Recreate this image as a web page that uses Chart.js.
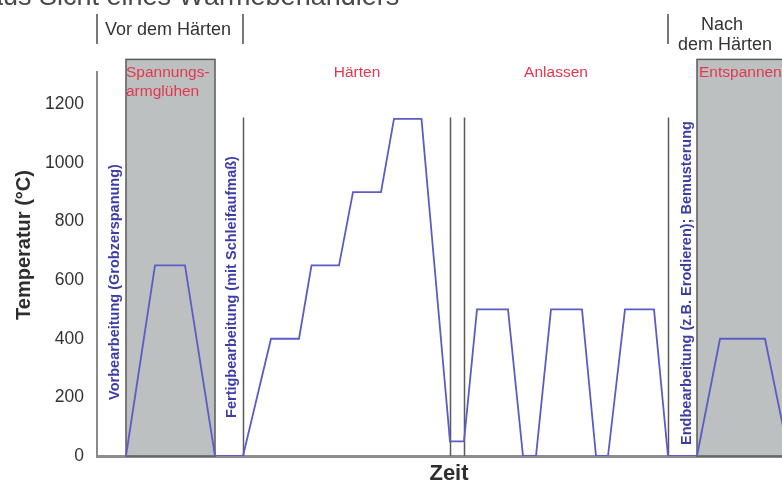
<!DOCTYPE html>
<html>
<head>
<meta charset="utf-8">
<script src="https://cdn.jsdelivr.net/npm/chart.js@4.4.1/dist/chart.umd.min.js"></script>
<style>
  html, body { margin: 0; padding: 0; background: #ffffff; }
  #wrap { width: 782px; height: 484px; position: relative; }
</style>
</head>
<body>
<div id="wrap"><canvas id="c"></canvas></div>
<script>
// ---- Data (time in arbitrary units, temperature in °C) ----
const timeValues   = [5.8, 11.6, 17.6, 23.6, 29.2, 34.8, 40.4, 42.9, 48.4, 51.2, 56.8, 59.4, 64.9, 70.6, 73.4, 76.0, 82.2, 85.2, 87.8, 90.8, 97.0, 99.8, 102.2, 105.6, 111.4, 114.2, 120.0, 124.6, 133.6, 138.4];
const temperatures = [0,   650,  650,  0,    0,    400,  400,  650,  650,  900,  900,  1150, 1150, 50,   50,   500,  500,  0,    0,    500,  500,  0,    0,     500,   500,   0,     0,     400,   400,   0];

// shaded process windows (time start, time end)
const shadedStarts = [5.8, 120.0];
const shadedEnds   = [23.6, 145.0];
const shadedTop    = 1353;

// vertical separator lines (time) and their top (°C)
const separatorTimes = [29.2, 70.5, 73.4, 114.2];
const separatorTop   = 1155;

// top bracket marks (time)
const bracketTimes = [0, 29.2, 114.2];

const yTickStep = 200;
const yMax = 1310;
const xMax = 137;

const FONT = "'Liberation Sans', Arial, Helvetica, sans-serif";

const points = timeValues.map((t, i) => ({ x: t, y: temperatures[i] }));

const decor = {
  id: 'decor',
  beforeDatasetsDraw(chart) {
    const { ctx, scales: { x, y } } = chart;
    ctx.save();
    for (let i = 0; i < shadedStarts.length; i++) {
      const x0 = x.getPixelForValue(shadedStarts[i]);
      const x1 = x.getPixelForValue(shadedEnds[i]);
      const y0 = y.getPixelForValue(shadedTop);
      const y1 = y.getPixelForValue(0);
      ctx.fillStyle = '#bcc0c0';
      ctx.fillRect(x0, y0, x1 - x0, y1 - y0);
      ctx.strokeStyle = '#5a5a5a';
      ctx.lineWidth = 1.5;
      ctx.strokeRect(x0, y0, x1 - x0, y1 - y0);
    }
    ctx.strokeStyle = '#5a5a5a';
    ctx.lineWidth = 1.5;
    for (const t of separatorTimes) {
      const px = Math.round(x.getPixelForValue(t)) + 0.5;
      ctx.beginPath();
      ctx.moveTo(px, y.getPixelForValue(separatorTop));
      ctx.lineTo(px, y.getPixelForValue(0));
      ctx.stroke();
    }
    ctx.restore();
  },
  afterDraw(chart) {
    const { ctx, scales: { x, y } } = chart;
    ctx.save();
    // cut-off heading at the very top
    ctx.fillStyle = '#4a4a4a';
    ctx.font = `27px ${FONT}`;
    ctx.textAlign = 'left';
    ctx.textBaseline = 'alphabetic';
    ctx.fillText('aus Sicht eines Wärmebehandlers', -12, 5);

    ctx.strokeStyle = '#777777';
    ctx.lineWidth = 2;
    for (const t of bracketTimes) {
      const px = x.getPixelForValue(t);
      ctx.beginPath();
      ctx.moveTo(px, 14);
      ctx.lineTo(px, 44);
      ctx.stroke();
    }
    ctx.fillStyle = '#333333';
    ctx.font = `18px ${FONT}`;
    ctx.textAlign = 'center';
    ctx.textBaseline = 'middle';
    ctx.fillText('Vor dem Härten', 168, 30);
    ctx.fillText('Nach', 722, 25);
    ctx.fillText('dem Härten', 725, 45);

    ctx.fillStyle = '#e2384f';
    ctx.font = `15.5px ${FONT}`;
    ctx.textAlign = 'left';
    ctx.fillText('Spannungs-', 126, 73);
    ctx.fillText('armglühen', 126, 92);
    ctx.fillText('Entspannen', 699, 73);
    ctx.textAlign = 'center';
    ctx.fillText('Härten', 357, 73);
    ctx.fillText('Anlassen', 556, 73);

    ctx.fillStyle = '#3d3da6';
    ctx.font = `bold 14.5px ${FONT}`;
    const rot = (txt, cx, cy) => {
      ctx.save();
      ctx.translate(cx, cy);
      ctx.rotate(-Math.PI / 2);
      ctx.textAlign = 'center';
      ctx.textBaseline = 'middle';
      ctx.fillText(txt, 0, 0);
      ctx.restore();
    };
    rot('Vorbearbeitung (Grobzerspanung)', 115, 282);
    rot('Fertigbearbeitung (mit Schleifaufmaß)', 232, 287);
    rot('Endbearbeitung (z.B. Erodieren); Bemusterung', 687, 283);

    ctx.fillStyle = '#2e2e2e';
    ctx.font = `bold 20px ${FONT}`;
    rot('Temperatur (°C)', 24, 245);
    ctx.textAlign = 'center';
    ctx.textBaseline = 'middle';
    ctx.font = `bold 22px ${FONT}`;
    ctx.fillText('Zeit', 449, 474);
    ctx.restore();
  }
};

new Chart(document.getElementById('c'), {
  type: 'line',
  data: {
    datasets: [{
      data: points,
      borderColor: '#5c5cc6',
      borderWidth: 1.8,
      pointRadius: 0,
      tension: 0,
      fill: false
    }]
  },
  options: {
    animation: false,
    responsive: true,
    maintainAspectRatio: false,
    layout: { padding: { top: 72, bottom: 28, left: 0, right: 0 } },
    plugins: { legend: { display: false }, tooltip: { enabled: false } },
    scales: {
      x: {
        type: 'linear',
        min: 0,
        max: xMax,
        grid: { display: false, drawTicks: false, tickLength: 0 },
        border: { display: true, color: '#8c8c8c', width: 3 },
        ticks: { display: false },
        afterFit(s) { s.height = 0; }
      },
      y: {
        min: 0,
        max: yMax,
        grid: { display: false, drawTicks: false, tickLength: 0 },
        border: { display: true, color: '#8a8a8a', width: 2 },
        ticks: {
          stepSize: yTickStep,
          padding: 13,
          color: '#333333',
          font: { size: 17.5, family: FONT },
          callback: v => (v % yTickStep === 0 ? v : '')
        },
        afterFit(s) { s.width = 97; }
      }
    }
  },
  plugins: [decor]
});
</script>
</body>
</html>
